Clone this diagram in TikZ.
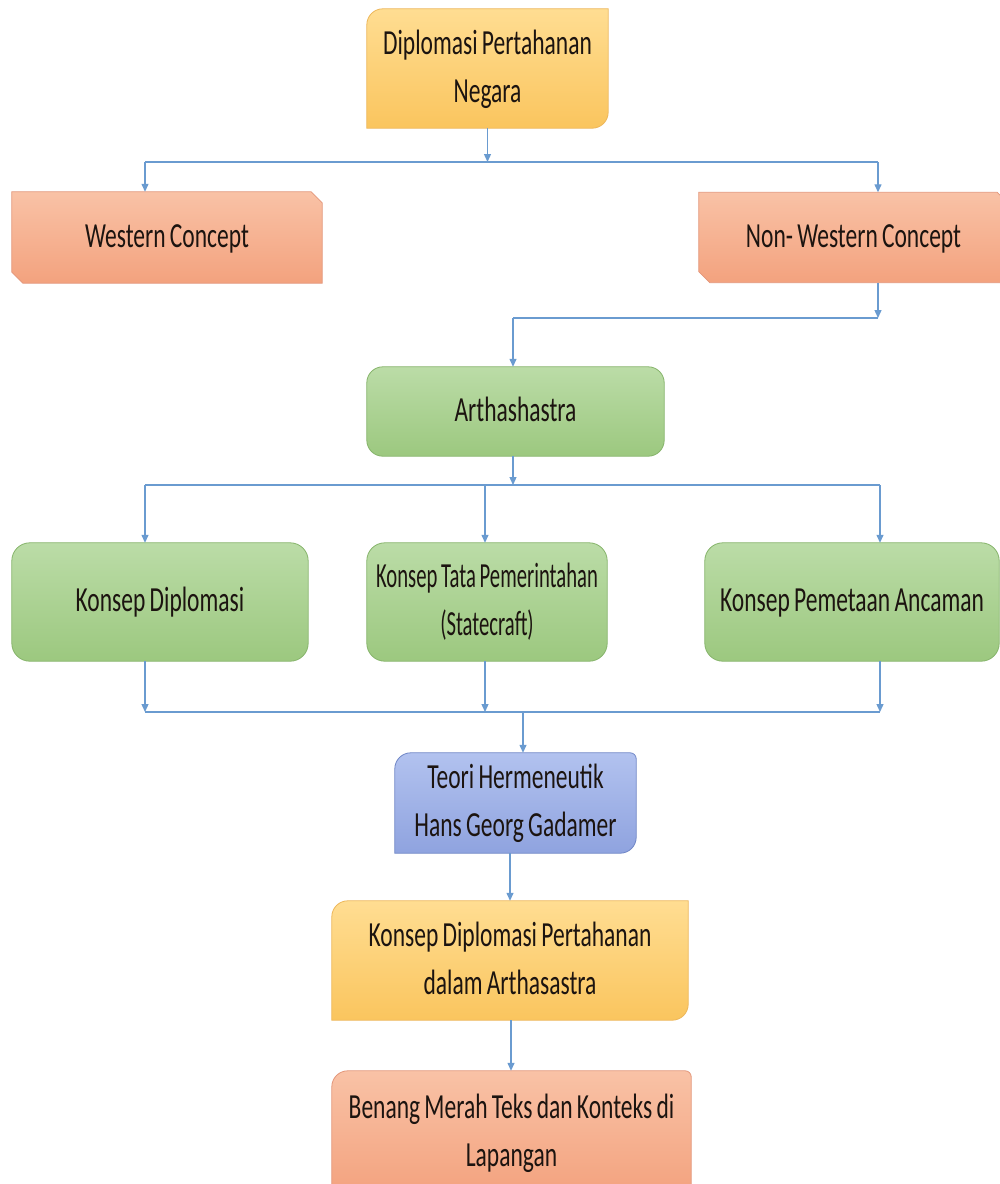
\documentclass[tikz,border=0pt]{standalone}
\usepackage{fontspec}
\setmainfont{Carlito}[WordSpace=0.8]
\usetikzlibrary{arrows.meta,backgrounds,calc}
\definecolor{conn}{HTML}{6A9BD0}
\definecolor{ytop}{HTML}{FFDD92}
\definecolor{ybot}{HTML}{FAC55E}
\definecolor{ybrd}{HTML}{EDB75A}
\definecolor{otop}{HTML}{F9C2A6}
\definecolor{obot}{HTML}{F3A27E}
\definecolor{obrd}{HTML}{E3967A}
\definecolor{gtop}{HTML}{BBDCA7}
\definecolor{gbot}{HTML}{9CC87F}
\definecolor{gbrd}{HTML}{86B46B}
\definecolor{btop}{HTML}{B2C2EF}
\definecolor{bbot}{HTML}{8FA3DF}
\definecolor{bbrd}{HTML}{6F86C6}
\definecolor{txt}{HTML}{1C1410}
\newcommand\lbl[1]{\scalebox{1}[1.5]{\begin{tabular}{@{}c@{}}#1\end{tabular}}}
\newcommand\lblx[2]{\scalebox{#1}[1.5]{\begin{tabular}{@{}c@{}}#2\end{tabular}}}
\newcommand\rdiag[4]{% node, fill-style, r1 (tl), r2 (br)
  \path[#2] (#1.south west) -- ([yshift=-#3]#1.north west) arc[start angle=180,end angle=90,radius=#3]
    -- (#1.north east) -- ([yshift=#4]#1.south east) arc[start angle=0,end angle=-90,radius=#4] -- cycle;}
\newcommand\sdiag[3]{% node, fill-style, snip (tr and bl)
  \path[#2] (#1.north west) -- ([xshift=-#3]#1.north east) -- ([yshift=-#3]#1.north east)
    -- (#1.south east) -- ([xshift=#3]#1.south west) -- ([yshift=#3]#1.south west) -- cycle;}
\newcommand\rall[3]{\path[#2,rounded corners=#3] (#1.south west) rectangle (#1.north east);}
\newcommand\rthree[5]{% node, style, tl, tr, br
  \path[#2] (#1.south west) -- ([yshift=-#3]#1.north west) arc[start angle=180,end angle=90,radius=#3]
    -- ([xshift=-#4]#1.north east) arc[start angle=90,end angle=0,radius=#4]
    -- ([yshift=#5]#1.south east) arc[start angle=0,end angle=-90,radius=#5] -- cycle;}
\tikzset{
  box/.style={draw=none,inner sep=0pt,text=txt,font=\fontsize{23.5}{32}\selectfont},
  yel/.style={shade,top color=ytop,bottom color=ybot,draw=ybrd,line width=0.8pt},
  ora/.style={shade,top color=otop,bottom color=obot,draw=obrd,line width=0.8pt},
  grn/.style={shade,top color=gtop,bottom color=gbot,draw=gbrd,line width=0.8pt},
  blu/.style={shade,top color=btop,bottom color=bbot,draw=bbrd,line width=0.8pt},
  conline/.style={draw=conn,line width=1.3pt},
  arr/.style={conline,-{Triangle[width=7pt,length=8pt]}}
}
\begin{document}
\begin{tikzpicture}[x=1pt,y=1pt]
\useasboundingbox (0,0) rectangle (1000,-1184);
\clip (0,0) rectangle (1000,-1184);
% nodes
\node[box,minimum width=241pt,minimum height=119pt] (top1) at (487.5,-68.5) {\lbl{Diplomasi Pertahanan\\Negara}};
\node[box,minimum width=310pt,minimum height=91pt] (west) at (167,-237.5) {\lbl{Western Concept}};
\node[box,minimum width=309pt,minimum height=90pt] (nonwest) at (853.5,-237.5) {\lbl{Non- Western Concept}};
\node[box,minimum width=297pt,minimum height=89pt] (artha) at (515.5,-411.5) {\lbl{Arthashastra}};
\node[box,minimum width=296pt,minimum height=118pt] (kd) at (160,-602) {\lbl{Konsep Diplomasi}};
\node[box,minimum width=240pt,minimum height=118pt] (ktp) at (487,-602) {\lblx{0.88}{Konsep Tata Pemerintahan\\(Statecraft)}};
\node[box,minimum width=294pt,minimum height=118pt] (kpa) at (852,-602) {\lbl{Konsep Pemetaan Ancaman}};
\node[box,minimum width=241pt,minimum height=100pt] (blue) at (515.5,-803) {\lbl{Teori Hermeneutik\\Hans Georg Gadamer}};
\node[box,minimum width=356pt,minimum height=119pt] (yel2) at (510,-960.5) {\lbl{Konsep Diplomasi Pertahanan\\dalam Arthasastra}};
\node[box,minimum width=359pt,minimum height=124pt] (ora) at (511.5,-1133) {\lbl{Benang Merah Teks dan Konteks di\\Lapangan}};
% shapes
\begin{scope}[on background layer]
\rdiag{top1}{yel}{16pt}{16pt}
\sdiag{west}{ora}{11pt}
\sdiag{nonwest}{ora}{11pt}
\rall{artha}{grn}{16pt}
\rall{kd}{grn}{18pt}
\rall{ktp}{grn}{18pt}
\rall{kpa}{grn}{18pt}
\rthree{blue}{blu}{16pt}{6pt}{16pt}
\rdiag{yel2}{yel}{16pt}{16pt}
\rthree{ora}{ora}{16pt}{6pt}{0.01pt}
\end{scope}
% bus coordinates
\coordinate (b1w) at (145,-162);
\coordinate (b1e) at (878,-162);
\coordinate (b2e) at (878,-318);
\coordinate (b2w) at (513,-318);
\coordinate (b3w) at (145,-485);
\coordinate (b3m) at (485,-485);
\coordinate (b3e) at (880,-485);
\coordinate (b3a) at (513,-485);
\coordinate (b4w) at (145,-712);
\coordinate (b4m) at (485,-712);
\coordinate (b4e) at (880,-712);
\coordinate (b4o) at (523,-712);
% connectors
\draw[arr] (top1.south) -- (top1.south |- b1w);
\draw[conline] (b1w) -- (b1e);
\draw[arr] (b1w) -- (b1w |- west.north);
\draw[arr] (b1e) -- (b1e |- nonwest.north);
\draw[arr] (b2e |- nonwest.south) -- (b2e);
\draw[conline] (b2e) -- (b2w);
\draw[arr] (b2w) -- (b2w |- artha.north);
\draw[arr] (b3a |- artha.south) -- (b3a);
\draw[conline] (b3w) -- (b3e);
\draw[arr] (b3w) -- (b3w |- kd.north);
\draw[arr] (b3m) -- (b3m |- ktp.north);
\draw[arr] (b3e) -- (b3e |- kpa.north);
\draw[arr] (b4w |- kd.south) -- (b4w);
\draw[arr] (b4m |- ktp.south) -- (b4m);
\draw[arr] (b4e |- kpa.south) -- (b4e);
\draw[conline] (b4w) -- (b4e);
\draw[arr] (b4o) -- (b4o |- blue.north);
\draw[arr] ([xshift=-5.5pt]blue.south) -- ([xshift=-5.5pt]blue.south |- yel2.north);
\draw[arr] ([xshift=1pt]yel2.south) -- ([xshift=1pt]yel2.south |- ora.north);
\end{tikzpicture}
\end{document}
